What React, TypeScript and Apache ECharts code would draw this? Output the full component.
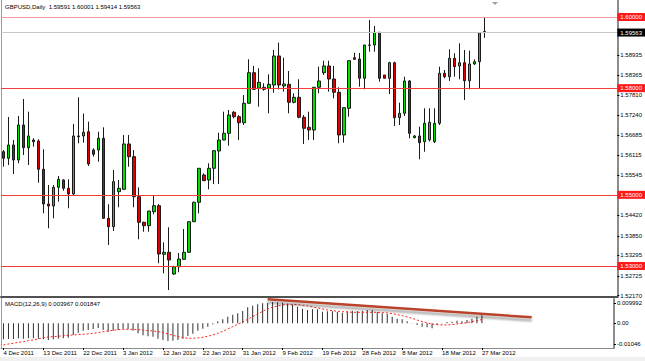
import React, { useEffect, useRef } from "react";
import * as echarts from "echarts";

const SYMBOL = "GBPUSD";
const PERIOD = "Daily";

const DATES = [
  "4 Dec 2011","5 Dec 2011","6 Dec 2011","7 Dec 2011","8 Dec 2011","9 Dec 2011",
  "11 Dec 2011","12 Dec 2011","13 Dec 2011","14 Dec 2011","15 Dec 2011","16 Dec 2011",
  "18 Dec 2011","19 Dec 2011","20 Dec 2011","21 Dec 2011","22 Dec 2011","23 Dec 2011",
  "26 Dec 2011","27 Dec 2011","28 Dec 2011","29 Dec 2011","30 Dec 2011",
  "2 Jan 2012","3 Jan 2012","4 Jan 2012","5 Jan 2012","6 Jan 2012",
  "8 Jan 2012","9 Jan 2012","10 Jan 2012","11 Jan 2012","12 Jan 2012","13 Jan 2012",
  "15 Jan 2012","16 Jan 2012","17 Jan 2012","18 Jan 2012","19 Jan 2012","20 Jan 2012",
  "22 Jan 2012","23 Jan 2012","24 Jan 2012","25 Jan 2012","26 Jan 2012","27 Jan 2012",
  "29 Jan 2012","30 Jan 2012","31 Jan 2012","1 Feb 2012","2 Feb 2012","3 Feb 2012",
  "5 Feb 2012","6 Feb 2012","7 Feb 2012","8 Feb 2012","9 Feb 2012","10 Feb 2012",
  "12 Feb 2012","13 Feb 2012","14 Feb 2012","15 Feb 2012","16 Feb 2012","17 Feb 2012",
  "19 Feb 2012","20 Feb 2012","21 Feb 2012","22 Feb 2012","23 Feb 2012","24 Feb 2012",
  "26 Feb 2012","27 Feb 2012","28 Feb 2012","29 Feb 2012","1 Mar 2012","2 Mar 2012",
  "4 Mar 2012","5 Mar 2012","6 Mar 2012","7 Mar 2012","8 Mar 2012","9 Mar 2012",
  "11 Mar 2012","12 Mar 2012","13 Mar 2012","14 Mar 2012","15 Mar 2012","16 Mar 2012",
  "18 Mar 2012","19 Mar 2012","20 Mar 2012","21 Mar 2012","22 Mar 2012","23 Mar 2012",
  "25 Mar 2012","26 Mar 2012","27 Mar 2012",
];

const OPEN = [
  1.56213,1.56028,1.56402,1.55980,1.56964,1.56326,1.56542,1.56514,1.55718,1.54743,
  1.54687,1.55212,1.55418,1.55184,1.55024,1.56655,1.56655,1.56775,1.56261,1.56261,
  1.56590,1.54341,1.54105,1.55089,1.55156,1.56430,1.56073,1.54948,1.54228,1.54133,
  1.54526,1.54695,1.53329,1.53385,1.52775,1.52980,1.53188,1.53385,1.54245,1.54791,
  1.55558,1.55418,1.55746,1.56233,1.56542,1.56730,1.57321,1.57197,1.57028,1.57574,
  1.58434,1.57996,1.58024,1.57996,1.58088,1.58904,1.58060,1.58108,1.57602,1.57742,
  1.57180,1.56899,1.56823,1.58024,1.58434,1.58623,1.58257,1.57883,1.56683,1.57433,
  1.58856,1.58819,1.58277,1.59213,1.59213,1.59570,1.58369,1.58277,1.58715,1.57169,
  1.57293,1.58201,1.56607,1.56655,1.56494,1.56550,1.56494,1.57012,1.58417,1.58322,
  1.58839,1.58623,1.58715,1.58209,1.58679,1.58743,1.59591,
];
const HIGH = [
  1.56261,1.57189,1.56542,1.57217,1.57695,1.57338,1.56590,1.56562,1.56281,1.55277,
  1.55277,1.55530,1.55437,1.55437,1.56992,1.57742,1.57287,1.57057,1.56309,1.56775,
  1.56899,1.54734,1.55699,1.55418,1.56683,1.56683,1.56261,1.55212,1.54245,1.54546,
  1.54996,1.54743,1.53666,1.54088,1.53008,1.53365,1.54040,1.54245,1.54807,1.55746,
  1.55606,1.55887,1.56261,1.56747,1.57338,1.57386,1.57358,1.57245,1.57807,1.58811,
  1.58623,1.58558,1.58136,1.58389,1.59072,1.59278,1.58856,1.58482,1.57855,1.58249,
  1.57245,1.57338,1.58024,1.58603,1.58772,1.58772,1.58623,1.58024,1.57461,1.58772,
  1.58996,1.58988,1.59213,1.59916,1.59747,1.59570,1.58369,1.58743,1.58743,1.57591,
  1.58322,1.58229,1.56683,1.56916,1.57433,1.57433,1.57433,1.58603,1.58510,1.59092,
  1.58980,1.59261,1.59072,1.59053,1.58811,1.59559,1.60001,
];
const LOW = [
  1.55791,1.55839,1.55586,1.55887,1.56120,1.55839,1.56354,1.55342,1.54481,1.54060,
  1.54341,1.54807,1.55117,1.54622,1.54996,1.56449,1.56466,1.55811,1.56073,1.55932,
  1.54321,1.53590,1.53984,1.54650,1.55136,1.55791,1.54650,1.53750,1.53964,1.53964,
  1.54453,1.53076,1.52794,1.52325,1.52747,1.52823,1.53168,1.53365,1.54237,1.54481,
  1.55389,1.55156,1.55305,1.55305,1.56534,1.56382,1.57152,1.56542,1.56964,1.57574,
  1.57948,1.57478,1.57928,1.57293,1.57872,1.57967,1.57900,1.57293,1.57574,1.57152,
  1.56430,1.56542,1.56542,1.57855,1.58369,1.57900,1.57714,1.56449,1.56466,1.57197,
  1.58791,1.58041,1.57967,1.59025,1.59025,1.58181,1.58277,1.57835,1.56936,1.56964,
  1.57217,1.56590,1.56590,1.55999,1.56213,1.56500,1.56455,1.56964,1.58277,1.58201,
  1.58322,1.58249,1.57667,1.57967,1.58651,1.57996,1.59414,
];
const CLOSE = [
  1.56028,1.56402,1.55980,1.56964,1.56326,1.56655,1.56494,1.55718,1.54743,1.54687,
  1.55212,1.55437,1.55184,1.55024,1.56655,1.56635,1.56759,1.55867,1.56140,1.56590,
  1.54341,1.54105,1.55370,1.55184,1.56430,1.56073,1.54948,1.54228,1.54133,1.54546,
  1.54695,1.53337,1.53385,1.53168,1.52980,1.53196,1.53385,1.54245,1.54791,1.55746,
  1.55398,1.55746,1.56241,1.56542,1.56730,1.57245,1.57197,1.57028,1.57574,1.58434,
  1.57967,1.58164,1.57967,1.58108,1.58904,1.58088,1.58116,1.57602,1.57742,1.57180,
  1.56871,1.56823,1.58024,1.58201,1.58623,1.58257,1.57883,1.56683,1.57450,1.58772,
  1.58811,1.58277,1.59213,1.59205,1.59570,1.58277,1.58277,1.58715,1.57169,1.57293,
  1.58201,1.56730,1.56655,1.56466,1.57012,1.57040,1.57012,1.58417,1.58322,1.58839,
  1.58603,1.58715,1.58209,1.58679,1.58743,1.59559,1.59563,
];

const MACD_MAIN = [
  -0.0080,-0.0078,-0.0078,-0.0075,-0.0077,-0.0075,-0.0075,-0.0077,-0.0080,-0.0083,
  -0.0080,-0.0077,-0.0075,-0.0072,-0.0058,-0.0047,-0.0037,-0.0033,-0.0028,-0.0023,
  -0.0033,-0.0042,-0.0037,-0.0033,-0.0027,-0.0028,-0.0037,-0.0050,-0.0060,-0.0065,
  -0.0067,-0.0077,-0.0083,-0.0088,-0.0087,-0.0083,-0.0077,-0.0063,-0.0052,-0.0037,
  -0.0027,-0.0017,-0.0005,0.0010,0.0020,0.0033,0.0043,0.0050,0.0062,0.0080,
  0.0088,0.0095,0.0100,0.0102,0.0107,0.0105,0.0103,0.0098,0.0093,0.0083,
  0.0073,0.0067,0.0070,0.0070,0.0058,0.0060,0.0060,0.0057,0.0053,0.0060,
  0.0063,0.0062,0.0063,0.0067,0.0067,0.0057,0.0050,0.0047,0.0033,0.0023,
  0.0020,0.0010,-0.0001,-0.0008,-0.0017,-0.0020,-0.0025,-0.0008,0.0002,0.0007,
  0.0008,0.0013,0.0010,0.0017,0.0023,0.0033,0.003967,
];
const MACD_SIGNAL = [
  -0.01083,-0.01033,-0.01000,-0.00950,-0.00917,-0.00867,-0.00833,-0.00783,-0.00717,-0.00683,
  -0.00667,-0.00650,-0.00617,-0.00600,-0.00583,-0.00567,-0.00550,-0.00533,-0.00500,-0.00467,
  -0.00417,-0.00383,-0.00350,-0.00317,-0.00300,-0.00300,-0.00300,-0.00317,-0.00333,-0.00367,
  -0.00383,-0.00417,-0.00467,-0.00533,-0.00600,-0.00667,-0.00717,-0.00750,-0.00750,-0.00733,
  -0.00700,-0.00650,-0.00583,-0.00500,-0.00400,-0.00283,-0.00167,-0.00050,0.00067,0.00200,
  0.00333,0.00467,0.00600,0.00717,0.00800,0.00867,0.00917,0.00950,0.00950,0.00933,
  0.00900,0.00867,0.00817,0.00767,0.00717,0.00667,0.00633,0.00600,0.00583,0.00567,
  0.00550,0.00550,0.00550,0.00550,0.00550,0.00550,0.00533,0.00517,0.00483,0.00433,
  0.00383,0.00317,0.00250,0.00167,0.00083,0.00017,-0.00033,-0.00067,-0.00083,-0.00083,
  -0.00067,-0.00033,0.00000,0.00033,0.00083,0.00133,0.001847,
];

const LEVELS = [1.6, 1.58, 1.55, 1.53];
const PRICE_TICKS = [1.5217, 1.52725, 1.53295, 1.5385, 1.5442, 1.55545, 1.56115, 1.56685, 1.5724, 1.5781, 1.58365, 1.58935];
const MACD_TICKS = [0.009992, 0, -0.01046];
const MACD_TICK_LABELS = ["0.009992", "0.00", "-0.01046"];
const TREND_LINE = [[53, 0.012], [106, 0.003]];

const PRICE_MIN = 1.52128;
const PRICE_MAX = 1.60478;
const MACD_MIN = -0.01235;
const MACD_MAX = 0.01215;
const EMPTY_BARS = 26;
const LABEL_EVERY = 8;

const FONT = "Liberation Sans";

export default function App() {
  const ref = useRef<HTMLDivElement>(null);

  useEffect(() => {
    if (!ref.current) return;
    const chart = echarts.init(ref.current, undefined, { renderer: "svg" });
    const last = CLOSE.length - 1;
    const cats = DATES.concat(Array(EMPTY_BARS).fill(""));
    const candles = OPEN.map((o, i) => [o, CLOSE[i], LOW[i], HIGH[i]]);
    const showDate = (i: number) => i % LABEL_EVERY === 0 && i < DATES.length;

    const boxLabel = (bg: string) => ({
      show: true,
      position: "end",
      distance: 0,
      formatter: (p: any) => Number(p.value).toFixed(5),
      color: "#fff",
      backgroundColor: bg,
      padding: [1, 3, 1, 3],
      fontSize: 6,
      fontFamily: FONT,
    });

    const option: any = {
      animation: false,
      backgroundColor: "#fff",
      textStyle: { fontFamily: FONT },
      title: [
        {
          text: `${SYMBOL},${PERIOD}  ${OPEN[last].toFixed(5)} ${HIGH[last].toFixed(5)} ${LOW[last].toFixed(5)} ${CLOSE[last].toFixed(5)}`,
          left: 5,
          top: 4,
          padding: 0,
          textStyle: { fontSize: 6, fontWeight: "normal", color: "#000", fontFamily: FONT },
        },
        {
          text: `MACD(12,26,9) ${MACD_MAIN[last].toFixed(6)} ${MACD_SIGNAL[last].toFixed(6)}`,
          left: 5,
          top: 301,
          padding: 0,
          textStyle: { fontSize: 6, fontWeight: "normal", color: "#000", fontFamily: FONT },
        },
      ],
      grid: [
        { left: 1, top: 0, width: 618, height: 297 },
        { left: 1, top: 299, width: 618, height: 49 },
      ],
      xAxis: [
        {
          type: "category",
          gridIndex: 0,
          data: cats,
          boundaryGap: true,
          axisLine: { show: true, onZero: false, lineStyle: { color: "#505050", width: 2 } },
          axisTick: { show: false },
          axisLabel: { show: false },
          splitLine: { show: false },
        },
        {
          type: "category",
          gridIndex: 1,
          data: cats,
          boundaryGap: true,
          axisLine: { show: true, onZero: false, lineStyle: { color: "#8a8a8a", width: 1 } },
          axisTick: { show: true, interval: showDate, alignWithLabel: true, length: 2, lineStyle: { color: "#000" } },
          axisLabel: { show: true, interval: showDate, align: "left", margin: 2, fontSize: 6, color: "#000", fontFamily: FONT },
          splitLine: { show: false },
        },
      ],
      yAxis: [
        {
          type: "value",
          gridIndex: 0,
          position: "right",
          min: PRICE_MIN,
          max: PRICE_MAX,
          splitLine: { show: false },
          axisLine: { show: true, onZero: false, lineStyle: { color: "#8c8c8c", width: 2 } },
          axisTick: { show: true, customValues: PRICE_TICKS, length: 2, lineStyle: { color: "#000" } },
          axisLabel: {
            show: true,
            customValues: PRICE_TICKS,
            formatter: (v: number) => v.toFixed(5),
            margin: 3,
            fontSize: 6,
            color: "#000",
            fontFamily: FONT,
          },
        },
        {
          type: "value",
          gridIndex: 1,
          position: "right",
          min: MACD_MIN,
          max: MACD_MAX,
          splitLine: { show: false },
          axisLine: { show: true, onZero: false, lineStyle: { color: "#8c8c8c", width: 2 } },
          axisTick: { show: true, customValues: MACD_TICKS, length: 2, lineStyle: { color: "#000" } },
          axisLabel: {
            show: true,
            customValues: MACD_TICKS,
            formatter: (v: number) => {
              let best = 0;
              MACD_TICKS.forEach((t, i) => {
                if (Math.abs(t - v) < Math.abs(MACD_TICKS[best] - v)) best = i;
              });
              return MACD_TICK_LABELS[best];
            },
            margin: 3,
            fontSize: 6,
            color: "#000",
            fontFamily: FONT,
          },
        },
      ],
      graphic: [
        { type: "line", shape: { x1: 1.5, y1: 0, x2: 1.5, y2: 349 }, style: { stroke: "#9a9a9a", lineWidth: 1 } },
        { type: "rect", shape: { x: 0, y: 357, width: 645, height: 4 }, style: { fill: "#f0f0f0" } },
        { type: "polygon", shape: { points: [[492, 2], [498, 2], [495, 5]] }, style: { fill: "#a0a0a0" } },
      ],
      series: [
        {
          type: "line",
          xAxisIndex: 0,
          yAxisIndex: 0,
          data: [],
          z: 1,
          markLine: {
            silent: true,
            symbol: ["none", "none"],
            precision: 5,
            animation: false,
            data: [
              ...LEVELS.map((v, i) => ({
                yAxis: v,
                lineStyle: { color: i === 0 ? "#f29a9a" : "#f23c3c", width: 1, type: "solid" },
                label: boxLabel("#ff1a1a"),
              })),
              {
                yAxis: CLOSE[last],
                lineStyle: { color: "#c8c8c8", width: 1, type: "solid" },
                label: boxLabel("#000"),
              },
            ],
          },
        },
        {
          type: "candlestick",
          xAxisIndex: 0,
          yAxisIndex: 0,
          data: candles,
          barWidth: 3,
          z: 3,
          itemStyle: {
            color: "#00e000",
            color0: "#e00000",
            borderColor: "#1a1a1a",
            borderColor0: "#1a1a1a",
            borderColorDoji: "#1a1a1a",
            borderWidth: 1,
          },
        },
        {
          type: "bar",
          xAxisIndex: 1,
          yAxisIndex: 1,
          data: MACD_MAIN,
          barWidth: 1,
          itemStyle: { color: "#303030" },
          z: 2,
        },
        {
          type: "line",
          xAxisIndex: 1,
          yAxisIndex: 1,
          data: MACD_SIGNAL,
          showSymbol: false,
          symbol: "none",
          lineStyle: { color: "#ff2020", width: 1, type: [2, 2] },
          z: 3,
        },
        {
          type: "line",
          xAxisIndex: 1,
          yAxisIndex: 1,
          data: TREND_LINE,
          showSymbol: false,
          symbol: "none",
          lineStyle: {
            color: "#b8432c",
            width: 2.5,
            shadowColor: "rgba(0,0,0,0.35)",
            shadowBlur: 2,
            shadowOffsetY: 3,
          },
          z: 5,
        },
      ],
    };
    chart.setOption(option);
    return () => chart.dispose();
  }, []);

  return (
    <div
      ref={ref}
      style={{ position: "fixed", left: 0, top: 0, width: 645, height: 361, background: "#fff" }}
    />
  );
}
